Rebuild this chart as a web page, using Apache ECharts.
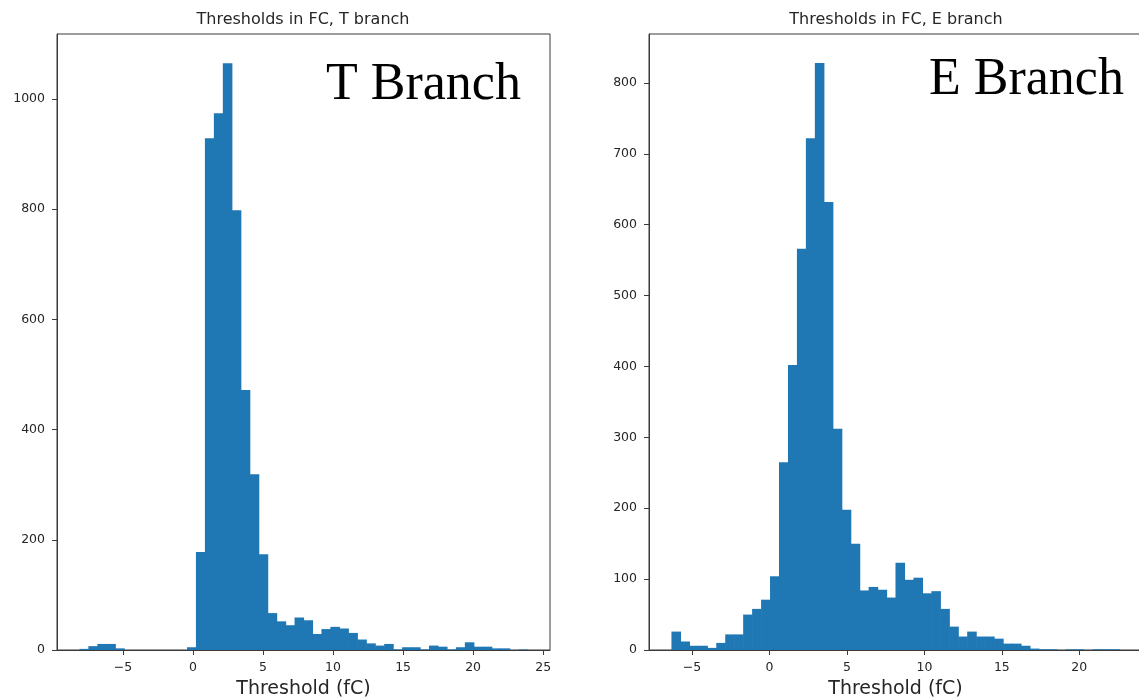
<!DOCTYPE html>
<html>
<head>
<meta charset="utf-8">
<script src="https://cdn.jsdelivr.net/npm/echarts@6/dist/echarts.min.js"></script>
<style>
  html, body { margin: 0; padding: 0; background: #ffffff; }
  #chart { width: 1139px; height: 697px; }
</style>
</head>
<body>
<div id="chart"></div>
<script>
// T branch: 50 equal-width bins
const tBinStart = -8.11;
const tBinWidth = 0.64;
const tCounts = [
  2, 7, 11, 11, 3, 0, 0, 0, 0, 0,
  0, 0, 5, 178, 929, 974, 1065, 798, 472, 319,
  174, 67, 52, 45, 59, 54, 29, 38, 42, 39,
  31, 19, 12, 8, 11, 1, 5, 5, 1, 8,
  6, 1, 5, 14, 6, 6, 3, 3, 0, 1
];

// E branch: 50 equal-width bins
const eBinStart = -6.33;
const eBinWidth = 0.5786;
const eCounts = [
  26, 12, 6, 6, 3, 10, 22, 22, 50, 58,
  71, 104, 265, 402, 566, 722, 828, 632, 312, 198,
  150, 84, 89, 85, 74, 123, 99, 102, 80, 83,
  58, 33, 19, 26, 19, 19, 16, 9, 9, 6,
  2, 1, 1, 0, 1, 1, 0, 1, 1, 1
];

// Tick labels
const tXTicks = [-5, 0, 5, 10, 15, 20, 25];
const tYTicks = [0, 200, 400, 600, 800, 1000];
const eXTicks = [-5, 0, 5, 10, 15, 20];
const eYTicks = [0, 100, 200, 300, 400, 500, 600, 700, 800];

const panelTitles = ['Thresholds in FC, T branch', 'Thresholds in FC, E branch'];
const branchLabels = ['T Branch', 'E Branch'];
const xAxisName = 'Threshold (fC)';

// [left edge, right edge, count] for each bin
function binRows(start, width, counts) {
  return counts.map((c, i) => [start + i * width, start + (i + 1) * width, c]);
}

const BAR = '#1f77b4';
const INK = '#262626';
const SPINE = '#3a3a3a';

function renderBin(params, api) {
  if (api.value(2) <= 0) return null;
  const lo = api.coord([api.value(0), 0]);
  const hi = api.coord([api.value(1), api.value(2)]);
  return {
    type: 'rect',
    shape: { x: lo[0], y: hi[1], width: hi[0] - lo[0] + 0.6, height: lo[1] - hi[1] },
    style: { fill: BAR }
  };
}

function xAxisFor(idx, min, max, ticks) {
  return {
    type: 'value', gridIndex: idx, min: min, max: max,
    splitLine: { show: false },
    axisLine: { show: true, onZero: false, lineStyle: { color: SPINE, width: 1 } },
    axisTick: { show: true, length: 5, customValues: ticks, lineStyle: { color: SPINE } },
    axisLabel: {
      customValues: ticks, color: INK, fontSize: 12.5, margin: 11,
      fontFamily: 'DejaVu Sans',
      formatter: v => String(v).replace('-', '\u2212')
    },
    name: xAxisName, nameLocation: 'middle', nameGap: 30,
    nameTextStyle: { fontSize: 19, color: INK, fontFamily: 'DejaVu Sans' }
  };
}

function yAxisFor(idx, max, ticks) {
  return {
    type: 'value', gridIndex: idx, min: 0, max: max,
    splitLine: { show: false },
    axisLine: { show: true, onZero: false, lineStyle: { color: SPINE, width: 1 } },
    axisTick: { show: true, length: 5, customValues: ticks, lineStyle: { color: SPINE } },
    axisLabel: {
      customValues: ticks, color: INK, fontSize: 12.5, margin: 12,
      fontFamily: 'DejaVu Sans',
      formatter: v => String(v)
    }
  };
}

const chart = echarts.init(document.getElementById('chart'), null, { renderer: 'canvas' });

chart.setOption({
  backgroundColor: '#ffffff',
  animation: false,
  grid: [
    { left: 57, right: 589, top: 34, bottom: 47, show: true, borderColor: SPINE, borderWidth: 1, containLabel: false, outerBoundsMode: 'none' },
    { left: 649, right: -3, top: 34, bottom: 47, show: true, borderColor: SPINE, borderWidth: 1, containLabel: false, outerBoundsMode: 'none' }
  ],
  xAxis: [
    xAxisFor(0, -9.71, 25.49, tXTicks),
    xAxisFor(1, -7.78, 24.05, eXTicks)
  ],
  yAxis: [
    yAxisFor(0, 1118, tYTicks),
    yAxisFor(1, 869, eYTicks)
  ],
  series: [
    {
      type: 'custom', xAxisIndex: 0, yAxisIndex: 0, clip: true,
      renderItem: renderBin, data: binRows(tBinStart, tBinWidth, tCounts)
    },
    {
      type: 'custom', xAxisIndex: 1, yAxisIndex: 1, clip: true,
      renderItem: renderBin, data: binRows(eBinStart, eBinWidth, eCounts)
    }
  ],
  graphic: [
    { type: 'text', x: 303, y: 20, style: { text: panelTitles[0], fill: INK, font: '16px "DejaVu Sans"', align: 'center', verticalAlign: 'middle' } },
    { type: 'text', x: 896, y: 20, style: { text: panelTitles[1], fill: INK, font: '16px "DejaVu Sans"', align: 'center', verticalAlign: 'middle' } },
    { type: 'text', x: 326, y: 59, z: 10, style: { text: branchLabels[0], fill: '#000', font: '52px "Liberation Serif"', align: 'left', verticalAlign: 'top' } },
    { type: 'text', x: 929, y: 54, z: 10, style: { text: branchLabels[1], fill: '#000', font: '52px "Liberation Serif"', align: 'left', verticalAlign: 'top' } }
  ]
});
</script>
</body>
</html>
